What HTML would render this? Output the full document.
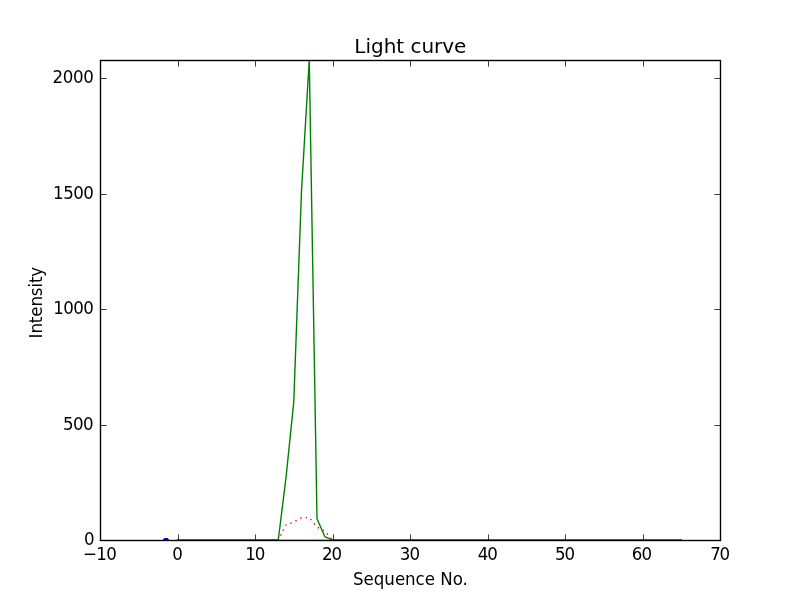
<!DOCTYPE html>
<html lang="en"><head><meta charset="utf-8"><title>Light curve</title>
<style>
html,body{margin:0;padding:0;background:#fff;}
body{width:800px;height:600px;overflow:hidden;}
svg{display:block;}
text{font-family:"DejaVu Sans","Liberation Sans",sans-serif;fill:#000;}
.t{font-size:16.667px;}
.title{font-size:20px;}
</style></head><body>
<svg width="800" height="600" viewBox="0 0 800 600">
<rect width="800" height="600" fill="#fff"/>
<defs><clipPath id="ax"><rect x="100" y="60" width="620" height="480"/></clipPath></defs>
<g clip-path="url(#ax)" fill="none">
<rect x="164" y="538" width="4" height="1" fill="#0000ff"/><rect x="163" y="539" width="6" height="1" fill="#0000ff"/>
<polyline points="177.50,540.00 185.25,540.00 193.00,540.00 200.75,540.00 208.50,540.00 216.25,540.00 224.00,540.00 231.75,540.00 239.50,540.00 247.25,540.00 255.00,540.00 262.75,540.00 270.50,540.00 278.25,540.00 286.00,477.66 293.75,402.16 301.50,190.91 309.25,60.00 317.00,518.76 324.75,536.54 332.50,540.00 340.25,540.00 348.00,540.00 355.75,540.00 363.50,540.00 371.25,540.00 379.00,540.00 386.75,540.00 394.50,540.00 402.25,540.00 410.00,540.00 417.75,540.00 425.50,540.00 433.25,540.00 441.00,540.00 448.75,540.00 456.50,540.00 464.25,540.00 472.00,540.00 479.75,540.00 487.50,540.00 495.25,540.00 503.00,540.00 510.75,540.00 518.50,540.00 526.25,540.00 534.00,540.00 541.75,540.00 549.50,540.00 557.25,540.00 565.00,540.00 572.75,540.00 580.50,540.00 588.25,540.00 596.00,540.00 603.75,540.00 611.50,540.00 619.25,540.00 627.00,540.00 634.75,540.00 642.50,540.00 650.25,540.00 658.00,540.00 665.75,540.00 673.50,540.00 681.25,540.00" stroke="#008000" stroke-width="1.39" stroke-linejoin="round" stroke-linecap="square"/>
<line x1="176.8" y1="540" x2="681.95" y2="540" stroke="#ff0000" stroke-width="0.5"/>
<polyline points="177.50,540.00 185.25,540.00 193.00,540.00 200.75,540.00 208.50,540.00 216.25,540.00 224.00,540.00 231.75,540.00 239.50,540.00 247.25,540.00 255.00,540.00 262.75,540.00 270.50,540.00 278.25,540.00 286.00,524.99 293.75,521.99 301.50,517.60 309.25,517.60 317.00,527.07 324.75,531.00 332.50,540.00" stroke="#ff0000" stroke-width="1.39" stroke-dasharray="1.39 4.17"/>
<polyline points="332.50,540.00 340.25,540.00 348.00,540.00 355.75,540.00 363.50,540.00 371.25,540.00 379.00,540.00 386.75,540.00 394.50,540.00 402.25,540.00 410.00,540.00 417.75,540.00 425.50,540.00 433.25,540.00 441.00,540.00 448.75,540.00 456.50,540.00 464.25,540.00 472.00,540.00 479.75,540.00 487.50,540.00 495.25,540.00 503.00,540.00 510.75,540.00 518.50,540.00 526.25,540.00 534.00,540.00 541.75,540.00 549.50,540.00 557.25,540.00 565.00,540.00 572.75,540.00 580.50,540.00 588.25,540.00 596.00,540.00 603.75,540.00 611.50,540.00 619.25,540.00 627.00,540.00 634.75,540.00 642.50,540.00 650.25,540.00 658.00,540.00 665.75,540.00 673.50,540.00 681.25,540.00" stroke="#ff0000" stroke-width="1.39" stroke-dasharray="1.39 4.17" stroke-dashoffset="3.93"/>
</g>
<g fill="#000" fill-opacity="0.75">
<rect x="100" y="534.4" width="1" height="5.6"/><rect x="100" y="61" width="1" height="5.6"/>
<rect x="178" y="534.4" width="1" height="5.6"/><rect x="178" y="61" width="1" height="5.6"/>
<rect x="255" y="534.4" width="1" height="5.6"/><rect x="255" y="61" width="1" height="5.6"/>
<rect x="333" y="534.4" width="1" height="5.6"/><rect x="333" y="61" width="1" height="5.6"/>
<rect x="410" y="534.4" width="1" height="5.6"/><rect x="410" y="61" width="1" height="5.6"/>
<rect x="488" y="534.4" width="1" height="5.6"/><rect x="488" y="61" width="1" height="5.6"/>
<rect x="565" y="534.4" width="1" height="5.6"/><rect x="565" y="61" width="1" height="5.6"/>
<rect x="643" y="534.4" width="1" height="5.6"/><rect x="643" y="61" width="1" height="5.6"/>
<rect x="720" y="534.4" width="1" height="5.6"/><rect x="720" y="61" width="1" height="5.6"/>
<rect x="101" y="540" width="5.6" height="1"/><rect x="714.4" y="540" width="5.6" height="1"/>
<rect x="101" y="425" width="5.6" height="1"/><rect x="714.4" y="425" width="5.6" height="1"/>
<rect x="101" y="309" width="5.6" height="1"/><rect x="714.4" y="309" width="5.6" height="1"/>
<rect x="101" y="194" width="5.6" height="1"/><rect x="714.4" y="194" width="5.6" height="1"/>
<rect x="101" y="78" width="5.6" height="1"/><rect x="714.4" y="78" width="5.6" height="1"/>
</g>
<rect x="100.5" y="60.5" width="620" height="480" fill="none" stroke="#000" stroke-width="1.39"/>
<text class="t" transform="translate(83.04,559.70) scale(1,1.090)" letter-spacing="-0.716">−10</text>
<text class="t" transform="translate(172.29,559.70) scale(1,1.090)">0</text>
<text class="t" transform="translate(245.25,559.70) scale(1,1.090)" letter-spacing="-1.208">10</text>
<text class="t" transform="translate(322.10,559.70) scale(1,1.090)" letter-spacing="-1.188">20</text>
<text class="t" transform="translate(399.77,559.70) scale(1,1.090)" letter-spacing="-0.863">30</text>
<text class="t" transform="translate(477.78,559.70) scale(1,1.090)" letter-spacing="-1.016">40</text>
<text class="t" transform="translate(554.89,559.70) scale(1,1.090)" letter-spacing="-0.984">50</text>
<text class="t" transform="translate(631.87,559.70) scale(1,1.090)" letter-spacing="-0.957">60</text>
<text class="t" transform="translate(710.17,559.70) scale(1,1.090)" letter-spacing="-1.290">70</text>
<text class="t" transform="translate(83.98,544.70) scale(1,1.090)">0</text>
<text class="t" transform="translate(62.91,429.70) scale(1,1.090)" letter-spacing="-0.492">500</text>
<text class="t" transform="translate(53.22,313.70) scale(1,1.090)" letter-spacing="-0.591">1000</text>
<text class="t" transform="translate(53.12,198.70) scale(1,1.090)" letter-spacing="-0.591">1500</text>
<text class="t" transform="translate(52.61,82.70) scale(1,1.090)" letter-spacing="-0.420">2000</text>
<text class="title" transform="translate(354.31,52.70)" letter-spacing="-0.024">Light curve</text>
<text class="t" transform="translate(353.06,584.80) scale(1,1.090)" letter-spacing="-0.032">Sequence No.</text>
<text class="t" transform="translate(42.00,338.40) rotate(-90) scale(1,1.090)" letter-spacing="-0.115">Intensity</text>
</svg>
</body></html>
